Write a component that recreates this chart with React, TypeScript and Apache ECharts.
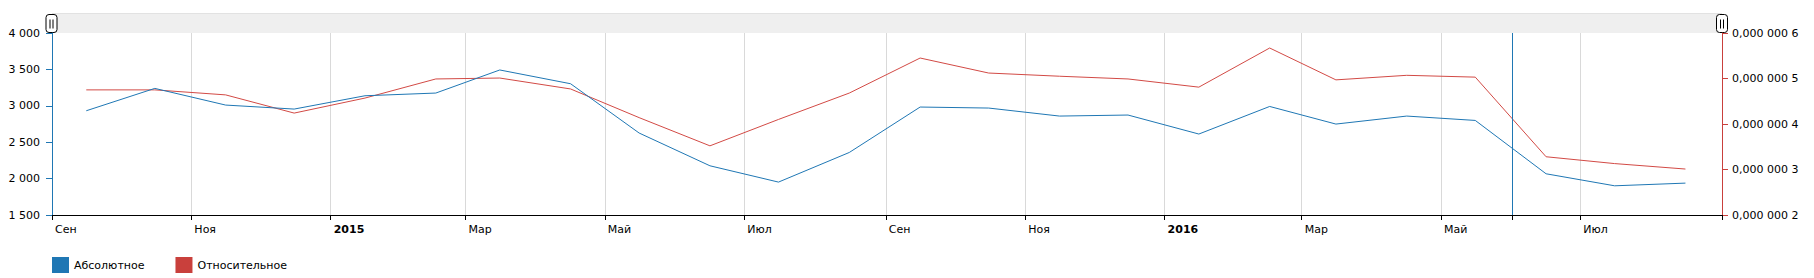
import React, { useEffect, useRef } from "react";
import * as echarts from "echarts";

const months = [
  "2014-09", "2014-10", "2014-11", "2014-12",
  "2015-01", "2015-02", "2015-03", "2015-04", "2015-05", "2015-06",
  "2015-07", "2015-08", "2015-09", "2015-10", "2015-11", "2015-12",
  "2016-01", "2016-02", "2016-03", "2016-04", "2016-05", "2016-06",
  "2016-07", "2016-08",
];

const absoluteValues = [
  2932, 3239, 3010, 2955, 3138, 3175, 3492, 3303, 2626, 2176, 1952, 2359,
  2983, 2969, 2859, 2873, 2612, 2991, 2749, 2859, 2799, 2066, 1901, 1938,
];

const relativeValues = [
  4.75e-7, 4.75e-7, 4.64e-7, 4.24e-7, 4.57e-7, 4.99e-7, 5.01e-7, 4.77e-7,
  4.14e-7, 3.52e-7, 4.1e-7, 4.68e-7, 5.45e-7, 5.12e-7, 5.05e-7, 4.99e-7,
  4.81e-7, 5.67e-7, 4.97e-7, 5.07e-7, 5.03e-7, 3.28e-7, 3.13e-7, 3.01e-7,
];

const seriesNames = ["Абсолютное", "Относительное"];
const monthNames = ["Янв", "Фев", "Мар", "Апр", "Май", "Июн", "Июл", "Авг", "Сен", "Окт", "Ноя", "Дек"];

const tickDates = [
  "2014-09-01", "2014-11-01", "2015-01-01", "2015-03-01", "2015-05-01",
  "2015-07-01", "2015-09-01", "2015-11-01", "2016-01-01", "2016-03-01",
  "2016-05-01", "2016-06-01", "2016-07-01", "2016-09-01",
];
const labelDates = [
  "2014-09-01", "2014-11-01", "2015-01-01", "2015-03-01", "2015-05-01",
  "2015-07-01", "2015-09-01", "2015-11-01", "2016-01-01", "2016-03-01",
  "2016-05-01", "2016-07-01",
];
const cursorDate = "2016-06-01";
const axisStart = "2014-09-01";
const axisEnd = "2016-09-01";

const leftAxis = { min: 1500, max: 4000, interval: 500 };
const rightAxis = { min: 0.0000002, max: 0.0000006, interval: 0.0000001 };

const BLUE = "#1f77b4";
const RED = "#c9403c";
const FONT = "DejaVu Sans";

function toTs(s: string): number {
  const [y, m, d] = s.split("-").map(Number);
  return new Date(y, m - 1, d || 1).getTime();
}

function grip(cx: number) {
  return {
    type: "group",
    children: [
      {
        type: "rect",
        shape: { x: cx - 5.5, y: 14.5, width: 11, height: 18, r: 3 },
        style: { fill: "#fff", stroke: "#000", lineWidth: 1 },
      },
      {
        type: "line",
        shape: { x1: cx - 1.5, y1: 19.5, x2: cx - 1.5, y2: 28.5 },
        style: { stroke: "#000", lineWidth: 1 },
      },
      {
        type: "line",
        shape: { x1: cx + 1.5, y1: 19.5, x2: cx + 1.5, y2: 28.5 },
        style: { stroke: "#000", lineWidth: 1 },
      },
    ],
  };
}

export default function App() {
  const ref = useRef<HTMLDivElement>(null);

  useEffect(() => {
    document.body.style.margin = "0";
    if (!ref.current) return;
    const chart = echarts.init(ref.current, undefined, { renderer: "svg" });

    const gridLeft = 52;
    const gridRight = 1722;

    const option: any = {
      animation: false,
      textStyle: { fontFamily: FONT },
      grid: { left: gridLeft, right: 1814 - gridRight, top: 33, height: 182, containLabel: false },
      legend: {
        left: 52,
        top: 257,
        padding: 0,
        itemWidth: 17,
        itemHeight: 16,
        itemGap: 31,
        icon: "rect",
        textStyle: { fontFamily: FONT, fontSize: 11, color: "#000" },
        data: seriesNames,
      },
      graphic: [
        {
          type: "rect",
          shape: { x: gridLeft, y: 13, width: gridRight - gridLeft, height: 20 },
          style: { fill: "#efefef" },
          z: 0,
        },
        {
          type: "line",
          shape: { x1: gridLeft, y1: 13.5, x2: gridRight, y2: 13.5 },
          style: { stroke: "#e2e2e2", lineWidth: 1 },
        },
        grip(gridLeft - 0.5),
        grip(gridRight),
      ],
      xAxis: {
        type: "value",
        min: toTs(axisStart),
        max: toTs(axisEnd),
        axisLine: { show: true, onZero: false, lineStyle: { color: "#000", width: 1 } },
        axisTick: {
          show: true,
          length: 5,
          lineStyle: { color: "#000" },
          customValues: tickDates.map(toTs),
        },
        splitLine: { show: true, lineStyle: { color: "#d9d9d9", width: 1 } },
        axisLabel: {
          customValues: labelDates.map(toTs),
          align: "left",
          margin: 9,
          fontFamily: FONT,
          fontSize: 11,
          color: "#000",
          padding: [0, 0, 0, 3],
          formatter: (value: number) => {
            const d = new Date(value);
            const m = d.getMonth();
            if (m === 0) return `{b|${d.getFullYear()}}`;
            return monthNames[m];
          },
          rich: {
            b: { fontWeight: "bold", fontFamily: FONT, fontSize: 11, color: "#000" },
          },
        },
      },
      yAxis: [
        {
          type: "value",
          position: "left",
          min: leftAxis.min,
          max: leftAxis.max,
          interval: leftAxis.interval,
          axisLine: { show: true, lineStyle: { color: BLUE, width: 1 } },
          axisTick: { show: true, length: 6, lineStyle: { color: BLUE } },
          splitLine: { show: false },
          axisLabel: {
            margin: 12,
            fontFamily: FONT,
            fontSize: 11,
            color: "#000",
            formatter: (v: number) => String(v).replace(/\B(?=(\d{3})+(?!\d))/g, " "),
          },
        },
        {
          type: "value",
          position: "right",
          min: rightAxis.min,
          max: rightAxis.max,
          interval: rightAxis.interval,
          axisLine: { show: true, lineStyle: { color: RED, width: 1 } },
          axisTick: { show: true, length: 6, lineStyle: { color: RED } },
          splitLine: { show: false },
          axisLabel: {
            margin: 10,
            fontFamily: FONT,
            fontSize: 11,
            color: "#000",
            formatter: (v: number) => {
              const s = v.toFixed(7);
              const [i, f] = s.split(".");
              return i + "," + f.replace(/(\d{3})(?=\d)/g, "$1 ");
            },
          },
        },
      ],
      series: [
        {
          name: seriesNames[0],
          type: "line",
          yAxisIndex: 0,
          showSymbol: false,
          color: BLUE,
          lineStyle: { color: BLUE, width: 1 },
          data: months.map((m, i) => [toTs(m + "-16"), absoluteValues[i]]),
          markLine: {
            silent: true,
            symbol: "none",
            label: { show: false },
            lineStyle: { color: BLUE, width: 1, type: "solid" },
            data: [{ xAxis: toTs(cursorDate) }],
          },
          z: 3,
        },
        {
          name: seriesNames[1],
          type: "line",
          yAxisIndex: 1,
          showSymbol: false,
          color: RED,
          lineStyle: { color: "#d24a45", width: 1 },
          data: months.map((m, i) => [toTs(m + "-16"), relativeValues[i]]),
          z: 2,
        },
      ],
    };

    chart.setOption(option);
    return () => chart.dispose();
  }, []);

  return <div ref={ref} style={{ width: 1814, height: 278 }} />;
}
